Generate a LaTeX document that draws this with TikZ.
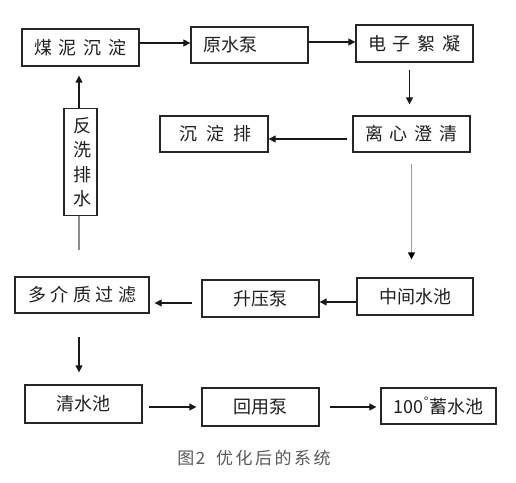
\documentclass[tikz,border=0pt]{standalone}
\usepackage{fontspec}
\setmainfont{Noto Sans CJK SC}
\usetikzlibrary{arrows.meta,calc}
\newcommand\mygap[1]{\hspace{#1pt}}
\begin{document}
\begin{tikzpicture}[x=1pt,y=-1pt,
  box/.style={draw=black!85,line width=1.3pt,inner sep=0pt,fill=white,
    font=\fontsize{18}{20}\selectfont,text=black!88},
  arr/.style={draw=black!90,line width=1.2pt,-{Triangle[length=7pt,width=7pt]}},
  grayarr/.style={draw=black!40,line width=1.3pt,-{Triangle[length=7pt,width=7pt,color=black]}},
  grayline/.style={draw=black!45,line width=1.3pt}]
\useasboundingbox[fill=white] (0,0) rectangle (516,482);
% boxes
\node[box,minimum width=117pt,minimum height=37pt] (meini) at (80.5,47.5) {煤\mygap{7}泥\mygap{7}沉\mygap{7}淀};
\node[box,minimum width=117pt,minimum height=36pt,text width=93pt,inner xsep=12pt,align=left] (yuanshui) at (249.5,45) {原水泵};
\node[box,minimum width=117pt,minimum height=37pt] (dianzi) at (414.5,43.5) {电\mygap{7}子\mygap{7}絮\mygap{7}凝};
\node[box,minimum width=117pt,minimum height=36pt] (lixin) at (411.5,134) {离\mygap{7}心\mygap{7}澄\mygap{7}清};
\node[box,minimum width=108pt,minimum height=36pt] (chendian) at (214,134) {\mygap{3}沉\mygap{9.5}淀\mygap{9.5}排};
\node[box,minimum width=33pt,minimum height=107pt,align=center] (fanxi) at (80.5,162)
  {\mygap{3}反\\[4.5pt]\mygap{3}洗\\[4.5pt]\mygap{3}排\\[4.5pt]\mygap{3}水};
\node[box,minimum width=134pt,minimum height=36pt] (duojie) at (82,295) {多\mygap{4.5}介\mygap{4.5}质\mygap{4.5}过\mygap{4.5}滤};
\node[box,minimum width=117pt,minimum height=37pt] (shengya) at (260.5,298.5) {升压泵};
\node[box,minimum width=116pt,minimum height=37pt] (zhongjian) at (415,296.5) {中间水池};
\node[box,minimum width=117pt,minimum height=38pt] (qingshui) at (83.5,404) {清水池};
\node[box,minimum width=117pt,minimum height=38pt] (huiyong) at (260.5,407) {回用泵};
\node[box,minimum width=115pt,minimum height=36pt] (xushui) at (438.5,406) {100\textsuperscript{°}蓄水池};
% caption
\node[text=black!65,font=\fontsize{17}{19}\selectfont] (cap) at (254,458)
  {图\mygap{1.5}2\mygap{11}优\mygap{2.5}化\mygap{2.5}后\mygap{2.5}的\mygap{2.5}系\mygap{2.5}统};
% connectors
\draw[arr] ([yshift=4.5pt]meini.east) -- ([yshift=4.5pt]meini.east -| yuanshui.west);
\draw[arr] ([yshift=1.5pt]dianzi.west -| yuanshui.east) -- ([yshift=1.5pt]dianzi.west);
\draw[arr,shorten <=7pt,shorten >=11pt] ([xshift=-5pt]dianzi.south) -- ([xshift=-5pt]dianzi.south |- lixin.north);
\draw[arr,shorten <=5pt] ([yshift=-5pt]lixin.west) -- ([yshift=-5pt]lixin.west -| chendian.east);
\draw[grayarr,shorten <=11pt,shorten >=18pt] (lixin.south) -- (lixin.south |- zhongjian.north);
\draw[arr] ([yshift=-5.5pt]zhongjian.west) -- ([yshift=-5.5pt]zhongjian.west -| shengya.east);
\draw[arr,shorten <=9pt,shorten >=5pt] ([yshift=-4.5pt]shengya.west) -- ([yshift=-4.5pt]shengya.west -| duojie.east);
\draw[arr,shorten <=23pt,shorten >=12pt] ([xshift=-3pt]duojie.south) -- ([xshift=-3pt]duojie.south |- qingshui.north);
\draw[arr,shorten >=9pt] ([xshift=-1.5pt]fanxi.north) -- ([xshift=-1.5pt]fanxi.north |- meini.south);
\draw[grayline,shorten >=26pt] ([xshift=-1.5pt]fanxi.south) -- ([xshift=-1.5pt]fanxi.south |- duojie.north);
\draw[arr,shorten <=6pt,shorten >=5pt] (qingshui.east |- huiyong.west) -- (huiyong.west);
\draw[arr,shorten <=10pt,shorten >=4pt] (huiyong.east) -- (huiyong.east -| xushui.west);
\end{tikzpicture}
\end{document}
